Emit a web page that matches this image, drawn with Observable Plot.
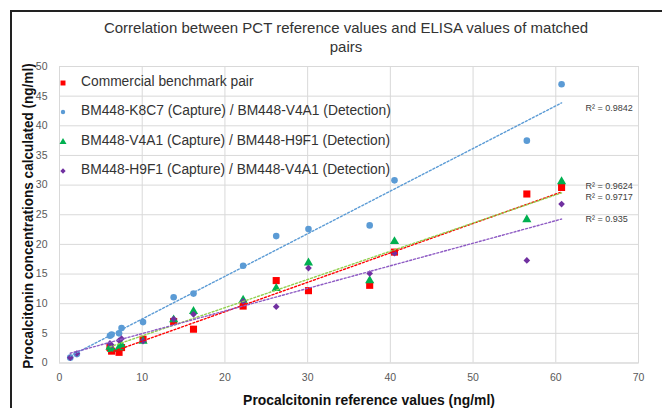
<!DOCTYPE html>
<html><head><meta charset="utf-8">
<script src="https://cdn.jsdelivr.net/npm/d3@7"></script>
<script src="https://cdn.jsdelivr.net/npm/@observablehq/plot@0.6"></script>
<style>
body{margin:0;background:#fff;}
#wrap{position:relative;width:662px;height:408px;overflow:hidden;font-family:"Liberation Sans",Arial,sans-serif;background:#fff;}
#wrap svg{position:absolute;left:0;top:0;}
.abs{position:absolute;white-space:nowrap;line-height:1;}
</style></head><body><div id="wrap"></div>
<script>
// ---- data ----
const refValues  = [1.3, 2.1, 6.1, 6.3, 7.2, 7.5, 10.1, 13.8, 16.2, 22.2, 26.2, 30.1, 37.5, 40.5, 56.5, 60.7];
const commercial = [null, null, 2.6, 2.0, 1.8, 2.6, 4.0, 7.0, 5.7, 9.6, 13.9, 12.2, 13.1, 18.7, 28.5, 29.6];
const k8c7       = [0.9, 1.5, 4.6, 4.8, 5.0, 5.9, 6.9, 11.1, 11.7, 16.4, 21.4, 22.6, 23.2, 30.8, 37.5, 47.0];
const v4a1       = [null, null, 2.7, 2.3, 2.6, 3.0, 3.7, 7.3, 8.7, 10.6, 12.6, 16.9, 13.9, 20.5, 24.2, 30.6];
const h9f1       = [0.9, 1.6, 3.3, 3.0, 3.8, 4.1, 3.7, 7.4, 8.2, 10.4, 9.5, 16.0, 15.1, 18.5, 17.3, 26.8];
const seriesNames = [
  "Commercial benchmark pair",
  "BM448-K8C7 (Capture) / BM448-V4A1 (Detection)",
  "BM448-V4A1 (Capture) / BM448-H9F1 (Detection)",
  "BM448-H9F1 (Capture) / BM448-V4A1 (Detection)"
];
const r2Values = ["0.9717", "0.9842", "0.9624", "0.935"];
const xTicks = [0, 10, 20, 30, 40, 50, 60, 70];
const yTicks = [0, 5, 10, 15, 20, 25, 30, 35, 40, 45, 50];
const titleLines = ["Correlation between PCT reference values and ELISA values of matched", "pairs"];
const xLabel = "Procalcitonin reference values (ng/ml)";
const yLabel = "Procalcitonin concentrations calculated (ng/ml)";

// ---- styles ----
const seriesValues = [commercial, k8c7, v4a1, h9f1];
const styles = [
  {fill: "#ff0000", trend: "#ff0000", symbol: "square",   r: 4.0, lr: 2.8, r2dy: 5},
  {fill: "#5b9bd5", trend: "#5b9bd5", symbol: "circle",   r: 3.3, lr: 2.2, r2dy: 5},
  {fill: "#00b050", trend: "#92d050", symbol: "triangle", r: 3.4, lr: 2.6, r2dy: -7},
  {fill: "#7030a0", trend: "#8e5bc4", symbol: "diamond2", r: 3.0, lr: 2.4, r2dy: 0}
];

const series = seriesValues.map((vals, i) => ({
  name: seriesNames[i],
  r2: r2Values[i],
  rows: refValues.map((x, j) => ({x, y: vals[j]})).filter(d => d.y != null),
  ...styles[i]
}));

function fit(rows) {
  const mx = d3.mean(rows, d => d.x), my = d3.mean(rows, d => d.y);
  const b = d3.sum(rows, d => (d.x - mx) * (d.y - my)) / d3.sum(rows, d => (d.x - mx) ** 2);
  const a = my - b * mx;
  const xe = d3.max(rows, d => d.x);
  return {x: xe, y: a + b * xe};
}

const marks = [
  Plot.gridY(yTicks, {stroke: "#d9d9d9", strokeOpacity: 1}),
  Plot.gridX(xTicks, {stroke: "#d9d9d9", strokeOpacity: 1}),
  Plot.frame({stroke: "#d9d9d9"}),
  Plot.axisX(xTicks, {tickSize: 0, tickPadding: 11, fill: "#595959", fontSize: 10.5}),
  Plot.axisY(yTicks, {tickSize: 0, tickPadding: 12, fill: "#595959", fontSize: 10.5})
];
for (const s of series) {
  marks.push(Plot.dot(s.rows, {x: "x", y: "y", symbol: () => s.symbol, fill: s.fill, r: s.r, stroke: "none"}));
}
for (const s of series) {
  marks.push(Plot.linearRegressionY(s.rows, {x: "x", y: "y", stroke: s.trend, ci: 0, strokeWidth: 1.4, strokeDasharray: "2,2"}));
}
for (const s of series) {
  const e = fit(s.rows);
  marks.push(Plot.text([e], {x: "x", y: "y", text: () => "R\u00b2 = " + s.r2, dx: 24, dy: s.r2dy, textAnchor: "start", fill: "#404040", fontSize: 9}));
}

const chart = Plot.plot({
  width: 662, height: 408,
  marginLeft: 59, marginRight: 24, marginTop: 66, marginBottom: 45.5,
  x: {domain: [0, 70], label: null},
  y: {domain: [0, 50], label: null},
  style: {fontFamily: "'Liberation Sans Narrow','Liberation Sans',Arial,sans-serif", background: "transparent"},
  marks
});
const wrap = document.getElementById("wrap");
wrap.appendChild(chart);

// ---- overlays ----
function add(html, css) {
  const d = document.createElement("div");
  d.className = "abs";
  d.innerHTML = html;
  Object.assign(d.style, css);
  wrap.appendChild(d);
  return d;
}
// outer border (chart area edge)
add("", {left: "10px", top: "10px", width: "700px", height: "2px", background: "#222"});
add("", {left: "10px", top: "10px", width: "2px", height: "420px", background: "#222"});

// title
titleLines.forEach((t, i) => {
  add(t, {left: "346px", top: (27 + i * 19) + "px", transform: "translate(-50%,-50%)", fontSize: "15px", color: "#333"});
});

// axis titles (condensed bold)
const xt = add(xLabel, {fontSize: "15px", fontWeight: "bold", color: "#111"});
const xk = 252 / xt.offsetWidth;
Object.assign(xt.style, {left: "369px", top: "399px", transform: `translate(-50%,-50%) scaleX(${xk})`});
const yt = add(yLabel, {fontSize: "15px", fontWeight: "bold", color: "#111"});
const yk = 305 / yt.offsetWidth;
Object.assign(yt.style, {left: "27px", top: "216px", transform: `translate(-50%,-50%) rotate(-90deg) scaleX(${yk})`});

// legend
const sym = {square: d3.symbolSquare, circle: d3.symbolCircle, triangle: d3.symbolTriangle, diamond2: d3.symbolDiamond2};
series.forEach((s, i) => {
  const cy = 81.7 + i * 29.4;
  const p = d3.symbol(sym[s.symbol], Math.PI * s.lr * s.lr)();
  add(`<svg width="12" height="12" viewBox="-6 -6 12 12" style="position:static"><path d="${p}" fill="${s.fill}"/></svg>`,
      {left: "57px", top: (cy - 6) + "px"});
  add(s.name, {left: "81px", top: cy + "px", transform: "translateY(-50%)", fontSize: "13.8px", color: "#333"});
});
</script>
</body></html>
